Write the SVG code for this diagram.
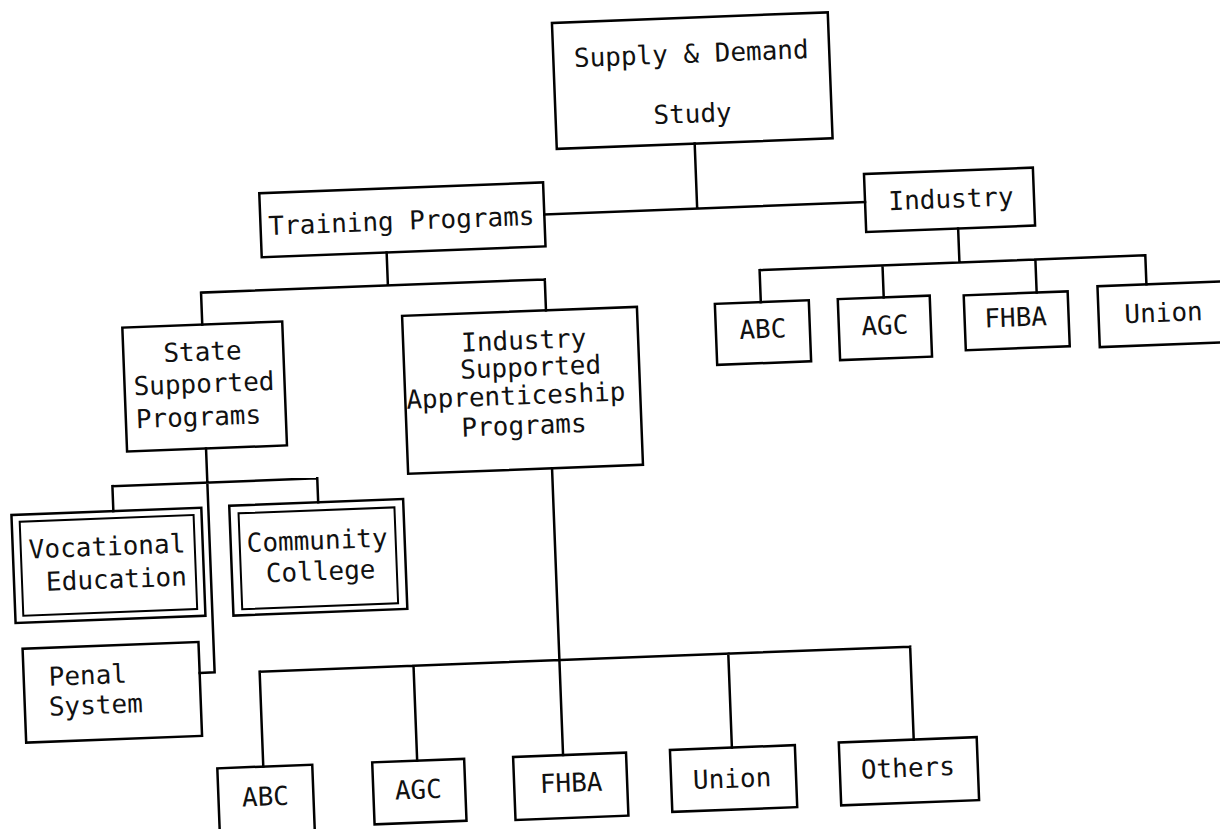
<svg xmlns="http://www.w3.org/2000/svg" width="1220" height="829" viewBox="0 0 1220 829">
<style>
.box{fill:none;stroke:#000;stroke-width:2.5}
.inner{fill:none;stroke:#000;stroke-width:2}
.ln{fill:none;stroke:#000;stroke-width:2.5;stroke-linecap:square}
text{font-family:"DejaVu Sans Mono","Liberation Mono",monospace;font-size:26px;fill:#111}
.c{text-anchor:middle}
</style>
<rect width="1220" height="829" fill="#fff"/>
<g transform="rotate(-2.2 610 414)">
<g id="connectors">
<path class="ln" d="M705 147V212M552 212H873"/>
<path class="ln" d="M393 244V277M206 277H550M206 277V309M550 277V308"/>
<path class="ln" d="M965 242V276M765 276H1151M765 276V308M888 276V308M1041 276V309M1151 276V305"/>
<path class="ln" d="M205 433V657H190M110 467H315M110 467V492M315 467V491"/>
<path class="ln" d="M550 466V753M250 658H901M250 658V753M404 658V753M719 658V752M901 658V751"/>
</g>
<g id="n-study"><rect class="box" x="567" y="21" width="276" height="126"/><text class="c" x="705" y="66">Supply &amp; Demand</text><text class="c" x="704" y="126">Study</text></g>
<g id="n-training"><rect class="box" x="268" y="180" width="284" height="64"/><text class="c" x="409" y="222">Training Programs</text></g>
<g id="n-industry"><rect class="box" x="873" y="184" width="169" height="58"/><text class="c" x="959" y="221">Industry</text></g>
<g id="n-r-abc"><rect class="box" x="719" y="308" width="94" height="61"/><text class="c" x="766" y="344">ABC</text></g>
<g id="n-r-agc"><rect class="box" x="842" y="308" width="92" height="61"/><text class="c" x="888" y="345">AGC</text></g>
<g id="n-r-fhba"><rect class="box" x="968" y="309" width="104" height="55"/><text class="c" x="1019" y="342">FHBA</text></g>
<g id="n-r-union"><rect class="box" x="1102" y="305" width="170" height="61"/><text class="c" x="1167" y="343">Union</text></g>
<g id="n-state"><rect class="box" x="126" y="309" width="160" height="124"/><text x="166" y="345">State</text><text x="135" y="377">Supported</text><text x="136" y="410">Programs</text></g>
<g id="n-isap"><rect class="box" x="406" y="308" width="235" height="158"/><text x="464" y="346">Industry</text><text x="462" y="373">Supported</text><text x="407" y="401">Apprenticeship</text><text x="461" y="431">Programs</text></g>
<g id="n-vocational"><rect class="box" x="8" y="492" width="190" height="108"/><rect class="inner" x="16" y="499" width="174" height="94"/><text x="24" y="536">Vocational</text><text x="40" y="569">Education</text></g>
<g id="n-community"><rect class="box" x="226" y="491" width="174" height="110"/><rect class="inner" x="235" y="499" width="156" height="96"/><text x="242" y="538">Community</text><text x="260" y="569">College</text></g>
<g id="n-penal"><rect class="box" x="14" y="626" width="176" height="94"/><text x="39" y="664">Penal</text><text x="38" y="694">System</text></g>
<g id="n-b-abc"><rect class="box" x="204" y="753" width="95" height="120"/><text class="c" x="251" y="792">ABC</text></g>
<g id="n-b-agc"><rect class="box" x="359" y="753" width="92" height="62"/><text class="c" x="404" y="791">AGC</text></g>
<g id="n-b-fhba"><rect class="box" x="500" y="753" width="113" height="63"/><text class="c" x="557" y="790">FHBA</text></g>
<g id="n-b-union"><rect class="box" x="657" y="752" width="125" height="62"/><text class="c" x="718" y="792">Union</text></g>
<g id="n-b-others"><rect class="box" x="826" y="751" width="138" height="63"/><text class="c" x="894" y="788">Others</text></g>
</g>
</svg>
